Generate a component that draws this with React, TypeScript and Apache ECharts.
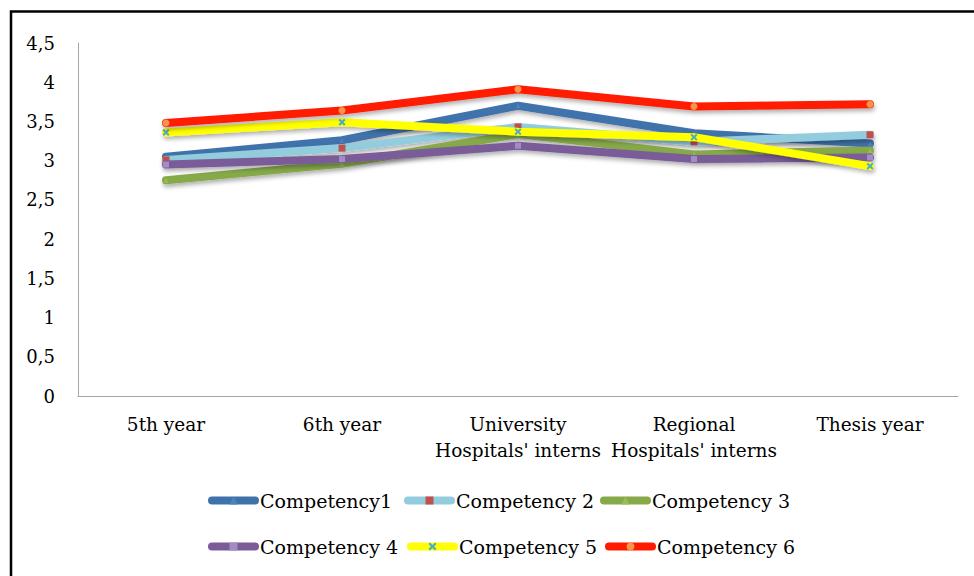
import React, { useEffect, useRef } from "react";
import * as echarts from "echarts";

const categories = [
  "5th year",
  "6th year",
  "University\nHospitals' interns",
  "Regional\nHospitals' interns",
  "Thesis year",
];
const seriesNames = [
  "Competency1",
  "Competency 2",
  "Competency 3",
  "Competency 4",
  "Competency 5",
  "Competency 6",
];
const competency1 = [3.05, 3.26, 3.7, 3.35, 3.22];
const competency2 = [3.01, 3.16, 3.43, 3.24, 3.33];
const competency3 = [2.75, 2.96, 3.34, 3.08, 3.13];
const competency4 = [2.95, 3.02, 3.19, 3.02, 3.04];
const competency5 = [3.36, 3.49, 3.37, 3.3, 2.93];
const competency6 = [3.48, 3.64, 3.91, 3.69, 3.72];
const yTicks = { min: 0, max: 4.5, interval: 0.5 };

const lineColors = ["#3F72AB", "#93CDDD", "#86A94A", "#7A5C98", "#FFFF00", "#FF1A00"];
const markerColors = ["#4F81BD", "#C0504D", "#9BBB59", "#A38CC4", "#4BACC6", "#F79646"];
const markerShapes = [
  "triangle",
  "rect",
  "triangle",
  "rect",
  "path://M2,0 L5,3 L8,0 L10,2 L7,5 L10,8 L8,10 L5,7 L2,10 L0,8 L3,5 L0,2 Z",
  "circle",
];
const markerSizes = [5, 7, 5, 6, 7, 7];

const FONT = "DejaVu Serif";

export default function App() {
  const ref = useRef<HTMLDivElement>(null);
  useEffect(() => {
    if (!ref.current) return;
    const chart = echarts.init(ref.current, null, { renderer: "svg" });
    const allData = [competency1, competency2, competency3, competency4, competency5, competency6];
    const legendPos = [
      [203, 486],
      [399, 486],
      [595, 486],
      [203, 532],
      [402, 532],
      [600, 532],
    ];
    chart.setOption({
      animation: false,
      backgroundColor: "#fff",
      textStyle: { fontFamily: FONT },
      graphic: [
        {
          type: "rect",
          shape: { x: 11, y: 11.5, width: 1000, height: 600 },
          style: { fill: "none", stroke: "#000", lineWidth: 2.5 },
          z: 100,
        },
      ],
      grid: { left: 78, right: 16, top: 43, bottom: 180, containLabel: false },
      legend: seriesNames.map((n, i) => ({
        data: [n],
        left: legendPos[i][0],
        top: legendPos[i][1],
        itemWidth: 43,
        itemHeight: 10,
        itemGap: 5,
        lineStyle: { width: 8, cap: "round", shadowBlur: 0, shadowOffsetX: 0, shadowOffsetY: 0 },
        textStyle: { fontFamily: FONT, fontSize: 19, color: "#000" },
        selectedMode: false,
      })),
      xAxis: {
        type: "category",
        data: categories,
        boundaryGap: true,
        axisLine: { show: true, lineStyle: { color: "#A6A6A6", width: 1 } },
        axisTick: { show: false },
        axisLabel: {
          fontFamily: FONT,
          fontSize: 18.5,
          color: "#000",
          margin: 15,
          lineHeight: 26,
          interval: 0,
        },
        splitLine: { show: false },
      },
      yAxis: {
        type: "value",
        min: yTicks.min,
        max: yTicks.max,
        interval: yTicks.interval,
        axisLine: { show: true, lineStyle: { color: "#A6A6A6", width: 1 } },
        axisTick: { show: false },
        splitLine: { show: false },
        axisLabel: {
          fontFamily: FONT,
          fontSize: 18,
          color: "#000",
          margin: 23,
          formatter: (v: number) => String(v).replace(".", ","),
        },
      },
      series: seriesNames.map((n, i) => ({
        name: n,
        type: "line",
        data: allData[i],
        symbol: markerShapes[i],
        symbolSize: markerSizes[i],
        showSymbol: true,
        itemStyle: { color: markerColors[i], borderWidth: 0 },
        lineStyle: {
          color: lineColors[i],
          width: 8,
          cap: "round",
          join: "round",
          shadowColor: "rgba(0,0,0,0.3)",
          shadowBlur: 4,
          shadowOffsetY: 3,
          shadowOffsetX: 1,
        },
        z: 2 + i,
      })),
    });
    return () => chart.dispose();
  }, []);
  return (
    <div
      ref={ref}
      style={{ position: "absolute", left: 0, top: 0, width: 974, height: 576 }}
    />
  );
}
